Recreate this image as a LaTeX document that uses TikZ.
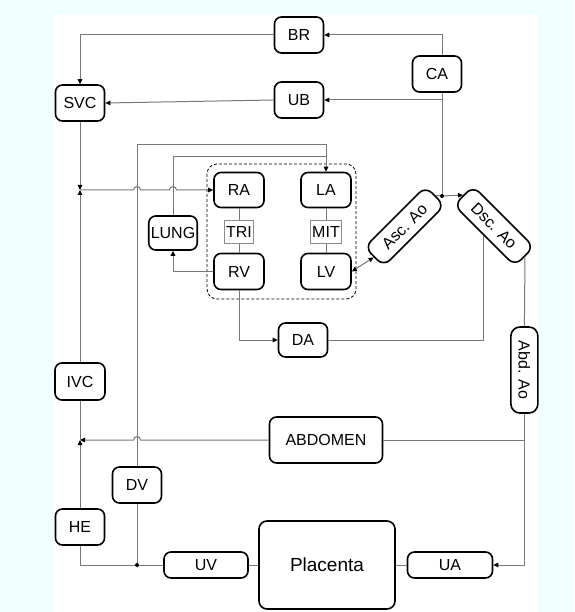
\documentclass[tikz,border=0pt]{standalone}
\usepackage{fontspec}
\setmainfont{Liberation Sans}
\usetikzlibrary{arrows.meta}
\definecolor{bgcyan}{RGB}{240,255,255}
\definecolor{flowgray}{RGB}{120,120,120}

\begin{document}
\begin{tikzpicture}[x=1pt,y=-1pt,
  organ/.style={draw,fill=white,line width=1.6pt,rounded corners=7pt,minimum width=49pt,minimum height=36pt,inner sep=2pt,font=\fontsize{16}{19}\selectfont},
  aorta/.style={organ,rounded corners=9pt,minimum width=86pt,minimum height=27pt},
  valve/.style={draw=black!45,fill=white,line width=0.8pt,minimum width=28pt,minimum height=23pt,inner sep=2pt,font=\fontsize{16}{19}\selectfont},
  vessel/.style={draw=flowgray,line width=1pt},
  >={Triangle[length=5pt,width=4.5pt,color=black]}]
  \fill[bgcyan] (0,0) rectangle (574,612);
  \fill[white] (54,15) rectangle (539,612);
  \useasboundingbox (0,0) rectangle (574,612);
  \draw[line width=0.8pt,dash pattern=on 3pt off 2pt,rounded corners=10pt] (207,164) rectangle (356,299);

  \node[organ] (BR) at (299,35) {BR};
  \node[organ] (CA) at (437,74) {CA};
  \node[organ] (SVC) at (80,103) {SVC};
  \node[organ] (UB) at (299,100) {UB};
  \node[organ,minimum width=50pt,minimum height=35pt] (RA) at (239,190) {RA};
  \node[organ,minimum width=50pt,minimum height=35pt] (LA) at (326,190) {LA};
  \node[valve] (TRI) at (239,232) {TRI};
  \node[valve] (MIT) at (326,232) {MIT};
  \node[organ,minimum width=50pt,minimum height=36pt] (RV) at (239,271.5) {RV};
  \node[organ,minimum width=50pt,minimum height=36pt] (LV) at (326,271.5) {LV};
  \node[organ,minimum width=48pt,minimum height=34pt] (LUNG) at (173,233) {LUNG};
  \node[aorta,rotate=45] (Asc) at (404.6,226.4) {Asc. Ao};
  \node[aorta,rotate=-45] (Dsc) at (494,226) {Dsc. Ao};
  \node[aorta,rotate=-90] (Abd) at (524.4,370) {Abd. Ao};
  \node[organ,minimum height=34pt] (DA) at (303,340) {DA};
  \node[organ,minimum width=50pt,minimum height=37pt] (IVC) at (80,381.5) {IVC};
  \node[organ,minimum width=113pt,minimum height=46pt] (ABDOMEN) at (326,440) {ABDOMEN};
  \node[organ] (DV) at (137,485) {DV};
  \node[organ] (HE) at (80,527) {HE};
  \node[organ,minimum width=84pt,minimum height=26pt] (UV) at (206,565) {UV};
  \node[organ,rounded corners=8pt,minimum width=136pt,minimum height=88pt,font=\fontsize{19}{23}\selectfont] (Placenta) at (327,565) {Placenta};
  \node[organ,minimum width=85pt,minimum height=26pt] (UA) at (450,565) {UA};

  \coordinate (caTop) at (442,35);
  \coordinate (arch) at (442,196);
  \coordinate (venaJ) at (80,190);
  \coordinate (ivcJ) at (80,440);
  \coordinate (uvJ) at (137,565);
  \coordinate (laIn) at (326,145);
  \coordinate (lungIn) at (326,157);

  \draw[vessel] (arch) -- (CA.south -| arch);
  \draw[vessel,->] (CA.north -| caTop) |- (BR.east);
  \draw[vessel,->] (UB.east -| arch) -- (UB.east);
  \draw[vessel,->] (BR.west) -| (SVC.north);
  \draw[vessel,->] (UB.west) -- (SVC.east);
  \draw[vessel,->] (SVC.south) -- (venaJ);
  \draw[vessel,->] (IVC.north) -- (venaJ);
  \draw[vessel,->] (venaJ) -- (133.5,190) arc[start angle=180,end angle=0,radius=3.5pt]
    -- (169.5,190) arc[start angle=180,end angle=0,radius=3.5pt] -- (RA.west);
  \draw[vessel] (RA.south) -- (TRI.north) (TRI.south) -- (RV.north);
  \draw[vessel] (LA.south) -- (MIT.north) (MIT.south) -- (LV.north);
  \draw[vessel,->] (RV.west) -| (LUNG.south);
  \draw[vessel] (LUNG.north) |- (lungIn);
  \draw[vessel,->] (DV.north) |- (laIn) -- (LA.north);
  \draw[vessel,->] (RV.south) |- (DA.west);
  \draw[vessel] (DA.east) -| (Dsc.south);
  \draw[vessel,<->] (LV.east) -- (Asc.west);
  \draw[vessel] (Asc.east) -- (arch);
  \draw[vessel,->] (arch) -- (Dsc.west);
  \draw[vessel] (Dsc.east) -- (Abd.west);
  \draw[vessel,->] (Abd.east) |- (UA.east);
  \draw[vessel] (ABDOMEN.east) -- (ABDOMEN.east -| Abd.east);
  \draw[vessel,->] (ABDOMEN.west) -- (140.5,440) arc[start angle=0,end angle=180,radius=3.5pt] -- (ivcJ);
  \draw[vessel] (IVC.south) -- (ivcJ);
  \draw[vessel,->] (HE.north) -- (ivcJ);
  \draw[vessel] (HE.south) |- (UV.west);
  \draw[vessel] (uvJ) -- (DV.south);
  \draw[vessel] (UV.east) -- (Placenta.west);
  \draw[vessel] (Placenta.east) -- (UA.west);
  \fill (arch) circle[radius=2pt];
  \fill (uvJ) circle[radius=2pt];
\end{tikzpicture}
\end{document}
